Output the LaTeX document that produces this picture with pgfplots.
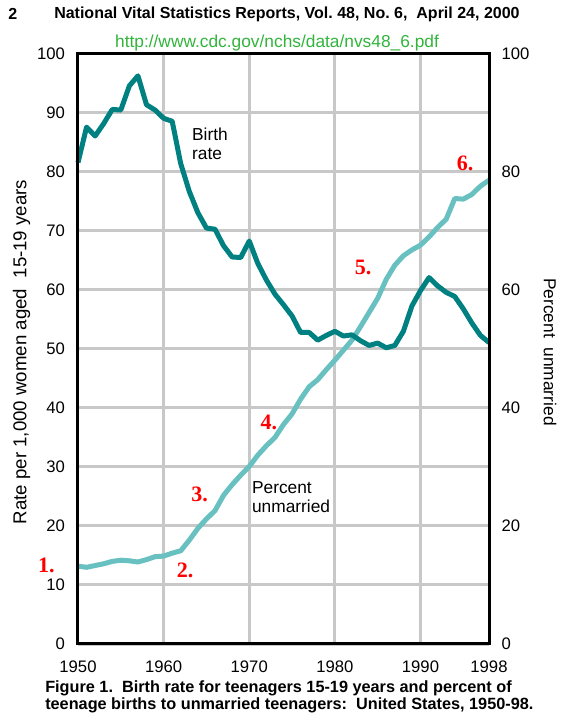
\documentclass[border=0pt]{standalone}
\usepackage{fontspec}
\setmainfont{Liberation Sans}
\newfontfamily\serifb{Liberation Serif}
\usepackage{pgfplots}
\pgfplotsset{compat=1.18}
\definecolor{birth}{RGB}{0,128,128}
\definecolor{pct}{RGB}{104,192,192}
\definecolor{gridc}{RGB}{200,200,200}
\definecolor{urlg}{RGB}{50,180,60}
\definecolor{redn}{RGB}{255,0,0}
\frenchspacing
\begin{document}
\begin{tikzpicture}
\useasboundingbox (-58.5pt,-54.75pt) rectangle (374.25pt,483pt);
\begin{axis}[
 at={(0,0)}, anchor=south west,
 scale only axis, width=308.25pt, height=442.5pt,
 xmin=1950, xmax=1998, ymin=0, ymax=100,
 xtick={1950,1960,1970,1980,1990,1998},
 xticklabels={1950,1960,1970,1980,1990,1998},
 ytick={0,10,...,100},
 major tick length=0pt,
 grid=major,
 major grid style={gridc, line width=2.25pt},
 axis line style={draw=none},
 tick label style={font=\fontsize{12.5}{14}\selectfont},
 yticklabel style={xshift=-6.3pt},
 xticklabel style={yshift=-9pt},
 /pgf/number format/assume math mode=true,
 clip=false,
]
\addplot[pct, line width=3.75pt, line join=round] coordinates {
(1950,13.2)(1951,13.0)(1952,13.3)(1953,13.6)(1954,14.0)(1955,14.2)(1956,14.1)(1957,13.9)(1958,14.3)(1959,14.8)
(1960,14.9)(1961,15.4)(1962,15.8)(1963,17.6)(1964,19.6)(1965,21.2)(1966,22.6)(1967,25.2)(1968,27.0)(1969,28.6)
(1970,30.1)(1971,32.0)(1972,33.6)(1973,35.0)(1974,37.2)(1975,39.0)(1976,41.5)(1977,43.6)(1978,44.8)(1979,46.5)
(1980,48.1)(1981,49.8)(1982,51.5)(1983,53.8)(1984,56.2)(1985,58.6)(1986,61.8)(1987,64.2)(1988,65.8)(1989,66.8)
(1990,67.6)(1991,69.0)(1992,70.6)(1993,72.0)(1994,75.5)(1995,75.4)(1996,76.2)(1997,77.6)(1998,78.6)};
\addplot[birth, line width=3.75pt, line join=round] coordinates {
(1950,81.6)(1951,87.6)(1952,86.1)(1953,88.2)(1954,90.6)(1955,90.5)(1956,94.6)(1957,96.3)(1958,91.4)(1959,90.5)
(1960,89.1)(1961,88.6)(1962,81.4)(1963,76.7)(1964,73.1)(1965,70.5)(1966,70.3)(1967,67.5)(1968,65.6)(1969,65.5)
(1970,68.3)(1971,64.5)(1972,61.7)(1973,59.3)(1974,57.5)(1975,55.6)(1976,52.8)(1977,52.8)(1978,51.5)(1979,52.3)
(1980,53.0)(1981,52.2)(1982,52.4)(1983,51.4)(1984,50.6)(1985,51.0)(1986,50.2)(1987,50.6)(1988,53.0)(1989,57.3)
(1990,59.9)(1991,62.1)(1992,60.7)(1993,59.6)(1994,58.9)(1995,56.8)(1996,54.4)(1997,52.3)(1998,51.1)};
\node[anchor=west, align=left, inner sep=0pt, font=\fontsize{13}{14.25}\selectfont] at (axis cs:1963.3,84.8) {Birth\\rate};
\node[anchor=west, align=left, inner sep=0pt, font=\fontsize{13}{14.25}\selectfont] at (axis cs:1970.3,24.9) {Percent\\unmarried};
\node[redn, font=\serifb\bfseries\fontsize{16.5}{16.5}\selectfont] at (axis cs:1946.3,13.4) {1.};
\node[redn, font=\serifb\bfseries\fontsize{16.5}{16.5}\selectfont] at (axis cs:1962.5,12.5) {2.};
\node[redn, font=\serifb\bfseries\fontsize{16.5}{16.5}\selectfont] at (axis cs:1964.2,25.3) {3.};
\node[redn, font=\serifb\bfseries\fontsize{16.5}{16.5}\selectfont] at (axis cs:1972.3,37.5) {4.};
\node[redn, font=\serifb\bfseries\fontsize{16.5}{16.5}\selectfont] at (axis cs:1983.3,63.9) {5.};
\node[redn, font=\serifb\bfseries\fontsize{16.5}{16.5}\selectfont] at (axis cs:1995.2,81.5) {6.};
\end{axis}
\begin{axis}[
 at={(0,0)}, anchor=south west,
 scale only axis, width=308.25pt, height=442.5pt,
 xmin=1950, xmax=1998, ymin=0, ymax=100,
 xtick=\empty, ytick={0,20,...,100}, yticklabel pos=right,
 major tick length=0pt,
 axis line style={black, line width=2.25pt},
 tick label style={font=\fontsize{12.5}{14}\selectfont},
 yticklabel style={xshift=6pt},
 /pgf/number format/assume math mode=true,
]
\end{axis}
\node[anchor=west, inner sep=0pt, font=\bfseries\fontsize{12}{14}\selectfont] at (-52.5pt,472.5pt) {2};
\node[anchor=west, inner sep=0pt, font=\bfseries\fontsize{12}{14}\selectfont] at (-18pt,472.5pt) {National Vital Statistics Reports, Vol. 48, No. 6,\ \ April 24, 2000};
\node[urlg, inner sep=0pt, font=\fontsize{13}{15}\selectfont] at (149.25pt,450.4pt) {http://www.cdc.gov/nchs/data/nvs48\_6.pdf};
\node[rotate=90, inner sep=0pt, font=\fontsize{14}{16}\selectfont] at (-42.4pt,219pt) {Rate per 1,000 women aged\ \ 15-19 years};
\node[rotate=-90, inner sep=0pt, font=\fontsize{13}{15}\selectfont] at (354pt,219pt) {Percent\ \ unmarried};
\node[anchor=west, inner sep=0pt, font=\bfseries\fontsize{12.2}{14}\selectfont] at (-24.75pt,-33pt) {Figure 1.\ \ Birth rate for teenagers 15-19 years and percent of};
\node[anchor=west, inner sep=0pt, font=\bfseries\fontsize{12.2}{14}\selectfont] at (-24.75pt,-45.75pt) {teenage births to unmarried teenagers:\ \ United States, 1950-98.};
\end{tikzpicture}
\end{document}
